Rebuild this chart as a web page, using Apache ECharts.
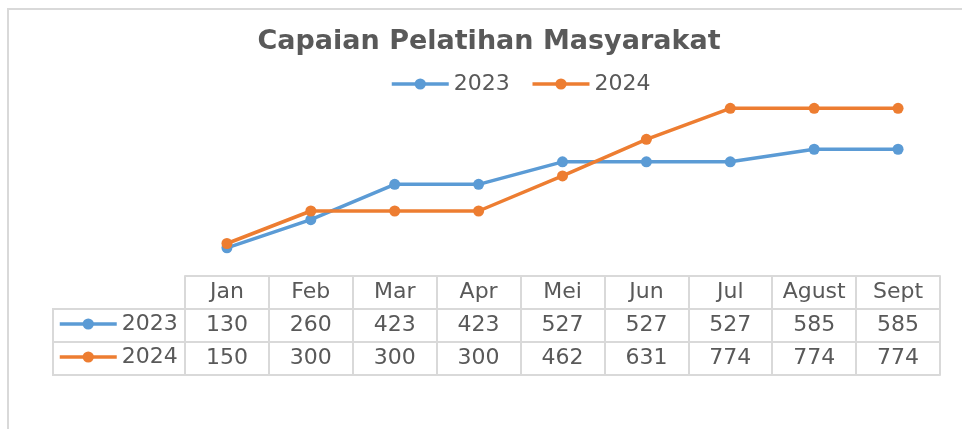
<!DOCTYPE html>
<html>
<head>
<meta charset="utf-8">
<script src="https://cdn.jsdelivr.net/npm/echarts@6/dist/echarts.min.js"></script>
<style>html,body{margin:0;padding:0;background:#fff;}#c{width:962px;height:429px;}</style>
</head>
<body>
<div id="c"></div>
<script>
const titleText = 'Capaian Pelatihan Masyarakat';
const months = ['Jan','Feb','Mar','Apr','Mei','Jun','Jul','Agust','Sept'];
const seriesNames = ['2023','2024'];
const values2023 = [130,260,423,423,527,527,527,585,585];
const values2024 = [150,300,300,300,462,631,774,774,774];

const FONT = 'DejaVu Sans';
const TXT = '#595959';
const GRID_LINE = '#d9d9d9';
const colors = ['#5B9BD5', '#ED7D31'];

const chart = echarts.init(document.getElementById('c'));
const rowAxis = (offset, labels, showLabel, showTick) => ({
  type: 'category',
  data: months,
  position: 'bottom',
  offset: offset,
  boundaryGap: true,
  axisLine: { show: true, lineStyle: { color: GRID_LINE, width: 2 } },
  axisTick: { show: showTick, length: 33, inside: false, lineStyle: { color: GRID_LINE, width: 2 } },
  axisLabel: {
    show: showLabel,
    margin: 0,
    interval: 0,
    fontFamily: FONT,
    fontSize: 22,
    color: TXT,
    lineHeight: 33,
    formatter: (v, i) => labels ? String(labels[i]) : v
  },
  splitLine: { show: false }
});

const legendCommon = {
  data: seriesNames,
  padding: 0,
  itemWidth: 57,
  itemHeight: 14,
  lineStyle: { width: 3.5 },
  itemStyle: { borderWidth: 0 }
};

chart.setOption({
  animation: false,
  color: colors,
  title: {
    text: titleText,
    left: 489,
    textAlign: 'center',
    top: 28,
    padding: 0,
    textStyle: { fontFamily: FONT, fontWeight: 'bold', fontSize: 27, color: TXT }
  },
  legend: [Object.assign({}, legendCommon, {
    left: 390,
    top: 72,
    itemGap: 21,
    textStyle: { fontFamily: FONT, fontSize: 22, color: TXT, lineHeight: 24 }
  }), Object.assign({}, legendCommon, {
    orient: 'vertical',
    left: 58,
    top: 311,
    itemGap: 7,
    textStyle: { fontFamily: FONT, fontSize: 22, color: TXT, lineHeight: 26 }
  })],
  grid: { left: 185, right: 22, top: 81, height: 195, containLabel: false },
  xAxis: [
    rowAxis(0, null, true, true),
    rowAxis(33, values2023, true, true),
    rowAxis(66, values2024, true, true),
    rowAxis(99, null, false, false)
  ],
  yAxis: { type: 'value', min: 0, max: 900, show: false, splitLine: { show: false } },
  graphic: [
    { type: 'rect', shape: { x: 8, y: 9, width: 1000, height: 500 }, style: { fill: 'none', stroke: GRID_LINE, lineWidth: 2 }, silent: true, z: -1 },
    { type: 'rect', shape: { x: 53, y: 309, width: 132, height: 66 }, style: { fill: 'none', stroke: GRID_LINE, lineWidth: 2 }, silent: true },
    { type: 'line', shape: { x1: 53, y1: 342, x2: 185, y2: 342 }, style: { stroke: GRID_LINE, lineWidth: 2 }, silent: true }
  ],
  series: [
    { name: seriesNames[0], type: 'line', data: values2023, symbol: 'circle', symbolSize: 11, lineStyle: { width: 3.5 }, itemStyle: { color: colors[0] } },
    { name: seriesNames[1], type: 'line', data: values2024, symbol: 'circle', symbolSize: 11, lineStyle: { width: 3.5 }, itemStyle: { color: colors[1] } }
  ]
});
</script>
</body>
</html>
